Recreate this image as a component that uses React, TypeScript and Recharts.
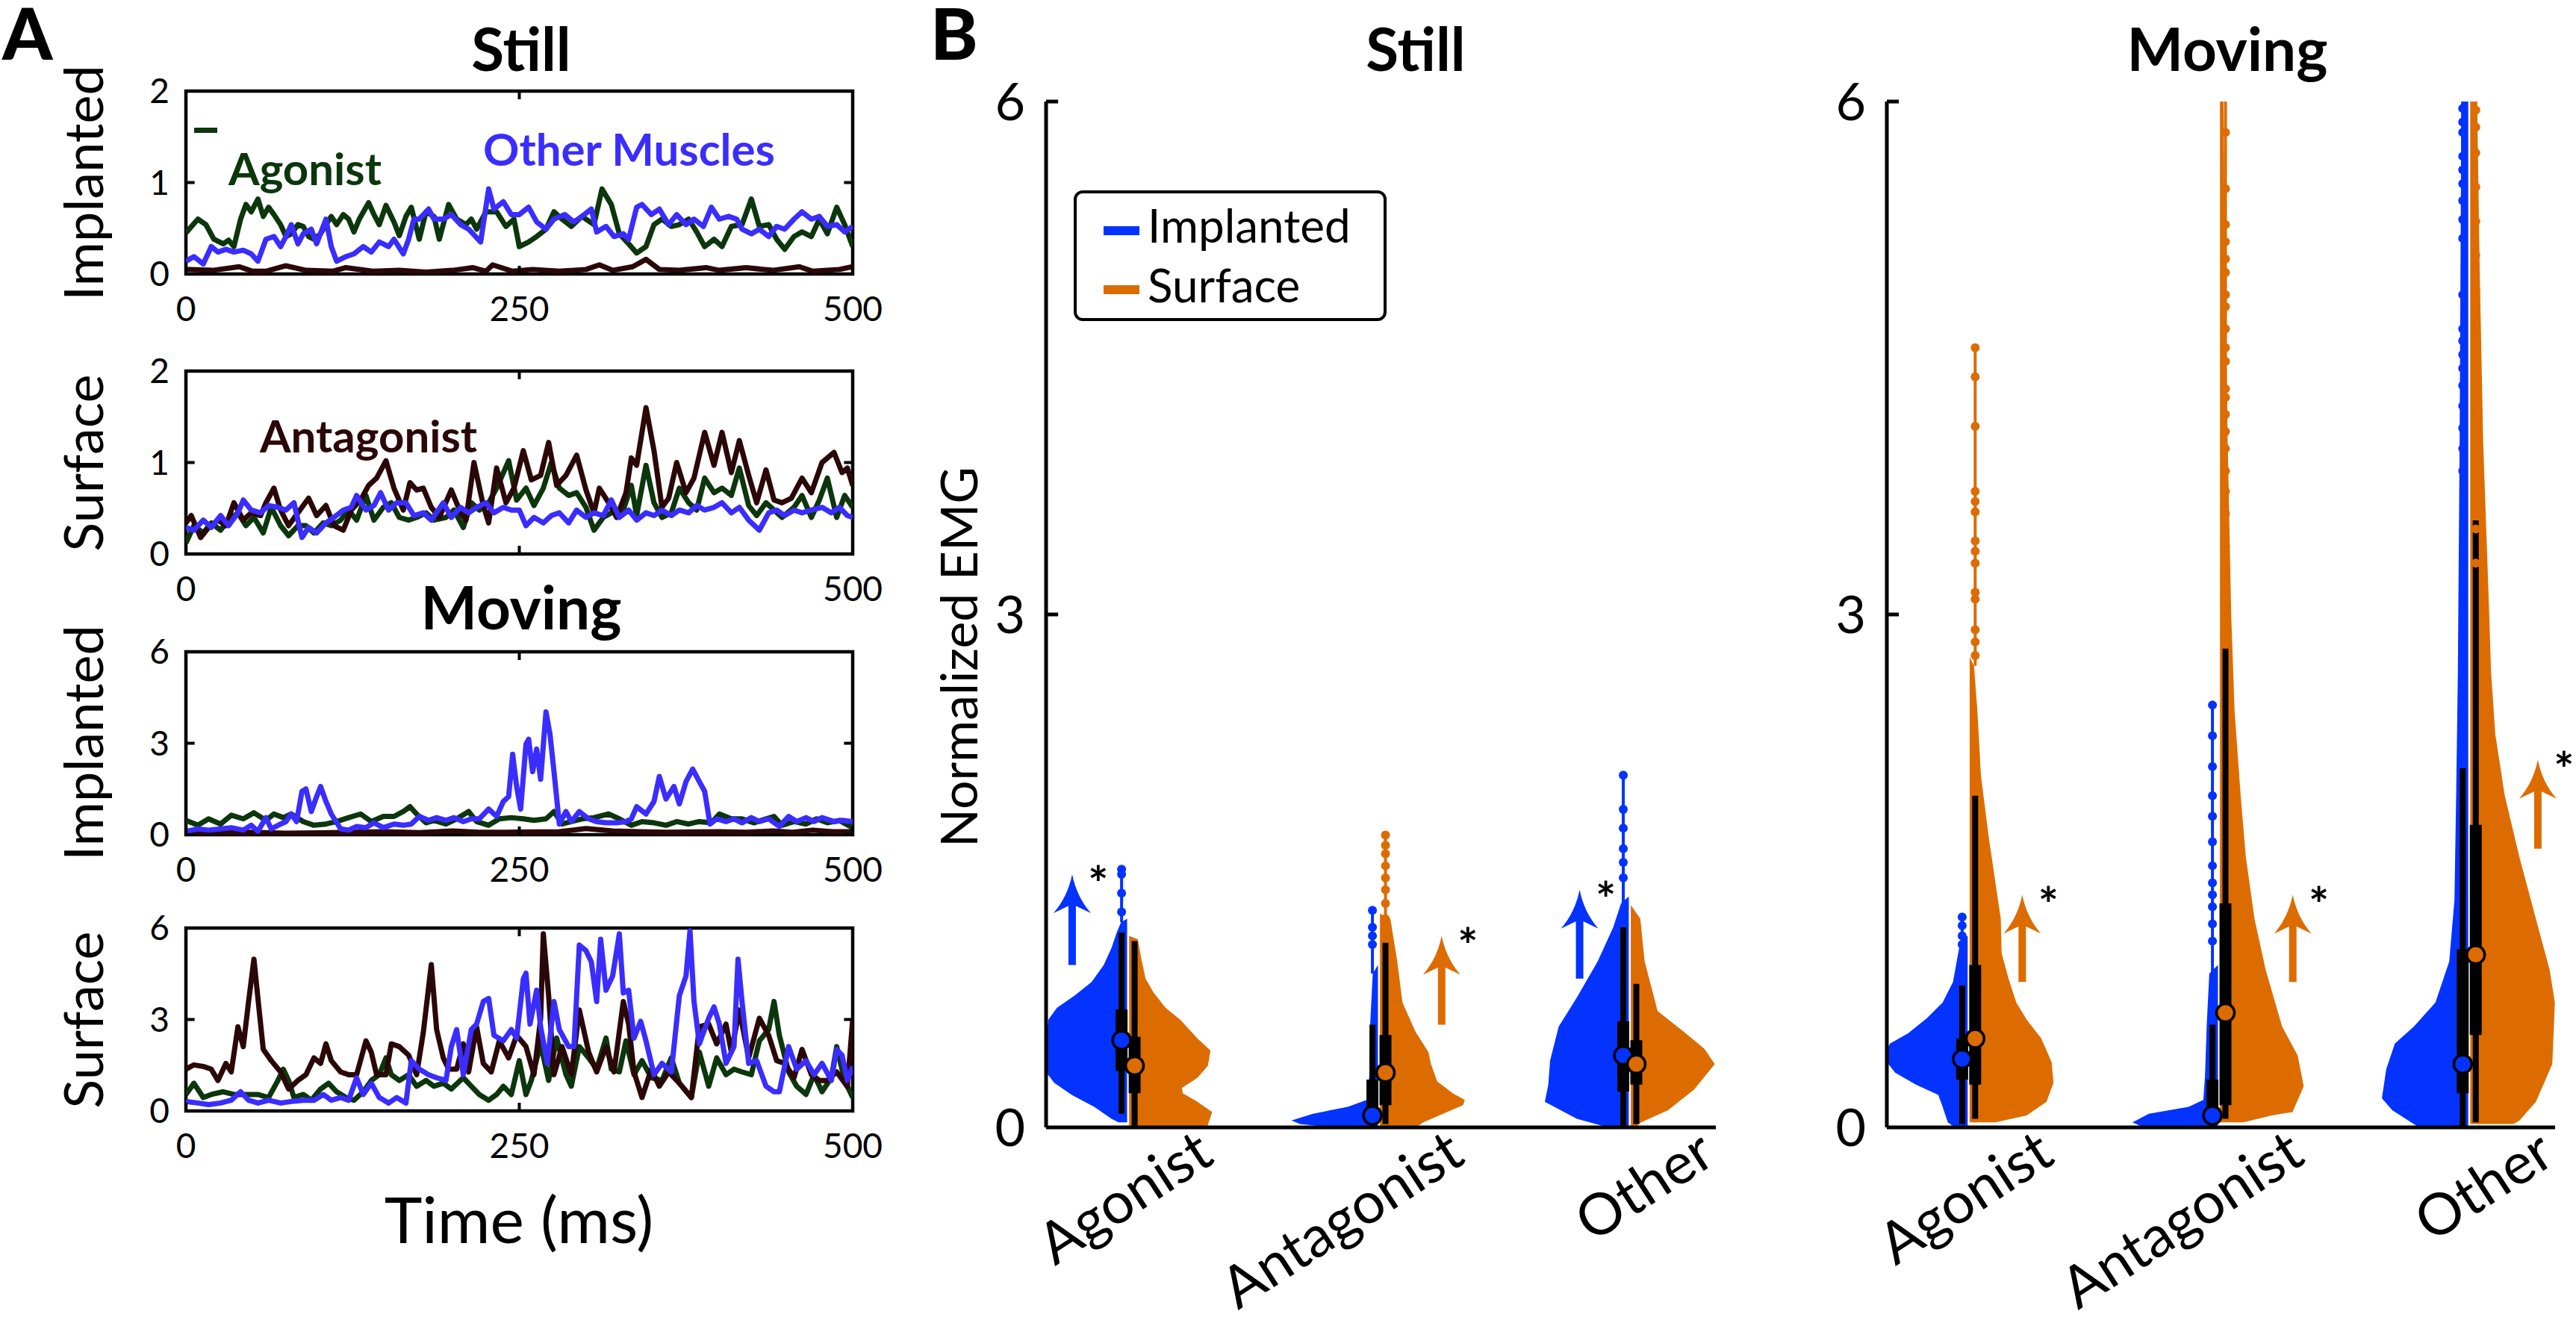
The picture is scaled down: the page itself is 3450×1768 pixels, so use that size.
import React from 'react';
import {
  LineChart, Line, XAxis, YAxis, ReferenceArea, ReferenceLine, ReferenceDot,
  ComposedChart, Area,
} from 'recharts';

type Pair = [number, number];

const FONT = "Lato, 'Open Sans', 'DejaVu Sans', sans-serif";
const GREEN = '#0c360c';
const BROWN = '#2b0707';
const TRACE_BLUE = '#3a2dff';
const BLUE = '#0433ff';
const ORANGE = '#dd6c00';

// ---------------- Panel A : example traces (time ms, normalized EMG) ----------------
const timeTicks = [0, 250, 500];
const timeLabelsNoMiddle = [0, 500];
const stillYTicks = [0, 1, 2];
const movingYTicks = [0, 3, 6];

const stillImplantedAgonist: Pair[] = [[0,0.45],[9,0.6],[15,0.54],[21,0.38],[28,0.33],[32,0.37],[36,0.3],[41,0.6],[45,0.76],[49,0.68],[54,0.82],[58,0.63],[62,0.73],[66,0.65],[71,0.54],[75,0.41],[79,0.44],[84,0.54],[88,0.52],[92,0.41],[96,0.38],[101,0.44],[105,0.54],[109,0.63],[113,0.54],[118,0.65],[122,0.6],[126,0.46],[130,0.6],[137,0.78],[141,0.65],[145,0.54],[150,0.75],[156,0.57],[160,0.42],[165,0.63],[169,0.73],[175,0.38],[180,0.68],[186,0.63],[190,0.38],[197,0.76],[203,0.6],[210,0.54],[214,0.6],[218,0.49],[225,0.68],[233,0.68],[240,0.52],[246,0.6],[250,0.3],[257,0.35],[263,0.41],[270,0.49],[276,0.68],[282,0.6],[289,0.52],[297,0.63],[306,0.54],[312,0.93],[319,0.76],[325,0.44],[332,0.33],[338,0.23],[345,0.3],[351,0.54],[357,0.6],[364,0.52],[370,0.54],[377,0.6],[383,0.46],[389,0.3],[396,0.38],[402,0.3],[409,0.52],[417,0.54],[424,0.82],[430,0.52],[437,0.54],[443,0.38],[449,0.27],[456,0.41],[462,0.46],[469,0.41],[475,0.6],[481,0.44],[488,0.73],[494,0.54],[500,0.3]];
const stillImplantedOther: Pair[] = [[0,0.14],[6,0.19],[13,0.11],[19,0.3],[24,0.24],[30,0.27],[36,0.24],[43,0.26],[49,0.22],[54,0.14],[60,0.38],[66,0.41],[71,0.3],[75,0.41],[79,0.54],[84,0.33],[88,0.44],[94,0.49],[98,0.33],[105,0.6],[109,0.3],[113,0.14],[120,0.19],[126,0.22],[133,0.3],[139,0.24],[145,0.35],[152,0.3],[156,0.38],[163,0.22],[167,0.38],[171,0.6],[175,0.6],[182,0.71],[186,0.6],[193,0.6],[199,0.65],[206,0.54],[212,0.49],[221,0.35],[227,0.93],[231,0.71],[238,0.79],[244,0.65],[250,0.65],[257,0.73],[263,0.57],[270,0.49],[276,0.6],[284,0.65],[291,0.57],[297,0.63],[304,0.71],[308,0.46],[315,0.52],[321,0.41],[328,0.44],[332,0.38],[338,0.73],[342,0.76],[349,0.65],[355,0.71],[362,0.54],[368,0.65],[375,0.54],[381,0.6],[388,0.52],[394,0.73],[400,0.6],[407,0.63],[413,0.6],[417,0.49],[424,0.44],[430,0.49],[437,0.41],[443,0.52],[449,0.49],[456,0.6],[462,0.68],[469,0.6],[475,0.63],[481,0.52],[488,0.54],[494,0.46],[500,0.52]];
const stillImplantedAntagonist: Pair[] = [[0,0.05],[20,0.04],[40,0.08],[50,0.03],[60,0.03],[75,0.09],[90,0.04],[110,0.03],[120,0.07],[140,0.03],[160,0.04],[180,0.02],[200,0.04],[215,0.07],[225,0.03],[230,0.1],[245,0.03],[260,0.05],[280,0.03],[300,0.05],[310,0.1],[320,0.04],[335,0.08],[345,0.16],[355,0.05],[370,0.04],[390,0.07],[400,0.04],[420,0.07],[440,0.04],[460,0.08],[470,0.03],[490,0.05],[500,0.08]];

const stillSurfaceAntagonist: Pair[] = [[0,0.34],[4,0.42],[11,0.18],[17,0.29],[24,0.37],[30,0.31],[36,0.56],[43,0.37],[49,0.45],[56,0.42],[60,0.56],[66,0.72],[71,0.48],[77,0.31],[84,0.45],[92,0.61],[98,0.42],[105,0.53],[111,0.31],[118,0.26],[124,0.48],[131,0.59],[137,0.75],[143,0.83],[150,1.02],[156,0.72],[163,0.48],[168,0.78],[173,0.7],[178,0.72],[184,0.51],[190,0.4],[199,0.7],[206,0.45],[210,0.37],[216,1.0],[223,0.53],[227,0.34],[233,0.94],[240,0.56],[246,0.72],[253,1.13],[259,0.81],[266,0.86],[272,1.22],[278,0.75],[285,0.86],[293,1.08],[300,0.7],[306,0.45],[310,0.72],[317,0.56],[323,0.4],[330,0.67],[334,1.05],[338,0.97],[345,1.6],[351,1.13],[357,0.51],[362,0.61],[368,1.0],[375,0.67],[381,0.83],[389,1.33],[396,0.97],[402,1.33],[409,0.89],[415,1.24],[422,0.86],[428,0.56],[435,0.92],[441,0.59],[447,0.56],[454,0.61],[462,0.83],[469,0.67],[477,1.0],[486,1.11],[492,0.89],[496,0.94],[500,0.75]];
const stillSurfaceAgonist: Pair[] = [[0,0.12],[6,0.31],[13,0.23],[19,0.34],[26,0.26],[32,0.37],[39,0.45],[45,0.31],[51,0.4],[58,0.23],[64,0.51],[71,0.31],[77,0.2],[84,0.31],[90,0.31],[96,0.23],[103,0.34],[109,0.31],[116,0.37],[122,0.48],[128,0.37],[135,0.64],[141,0.37],[148,0.51],[154,0.56],[160,0.4],[167,0.37],[173,0.4],[180,0.45],[186,0.37],[195,0.4],[201,0.48],[208,0.29],[214,0.56],[220,0.48],[227,0.56],[233,0.72],[242,1.02],[248,0.59],[255,0.72],[261,0.53],[268,0.72],[274,1.0],[280,0.72],[287,0.64],[293,0.67],[300,0.51],[306,0.26],[313,0.4],[319,0.45],[328,0.48],[334,0.75],[338,0.42],[345,0.97],[351,0.56],[357,0.4],[364,0.45],[370,0.72],[377,0.56],[383,0.48],[389,0.83],[396,0.67],[402,0.72],[409,0.64],[415,0.94],[422,0.53],[428,0.42],[435,0.56],[441,0.48],[447,0.4],[456,0.51],[462,0.64],[469,0.4],[475,0.59],[481,0.83],[488,0.4],[494,0.64],[500,0.51]];
const stillSurfaceOther: Pair[] = [[0,0.29],[6,0.26],[13,0.37],[19,0.29],[26,0.42],[32,0.31],[39,0.45],[43,0.59],[49,0.48],[56,0.45],[62,0.53],[69,0.51],[75,0.48],[81,0.56],[87,0.18],[92,0.29],[98,0.23],[105,0.34],[111,0.4],[118,0.48],[124,0.51],[128,0.64],[135,0.48],[141,0.53],[146,0.67],[152,0.48],[158,0.56],[165,0.56],[171,0.42],[178,0.45],[184,0.37],[193,0.56],[199,0.4],[206,0.51],[212,0.45],[218,0.51],[225,0.56],[231,0.45],[238,0.51],[244,0.48],[250,0.48],[255,0.31],[261,0.4],[268,0.34],[274,0.42],[280,0.45],[287,0.34],[293,0.48],[300,0.4],[306,0.45],[313,0.42],[319,0.59],[325,0.4],[332,0.48],[338,0.37],[345,0.45],[351,0.42],[357,0.48],[364,0.42],[370,0.48],[377,0.45],[383,0.53],[389,0.48],[396,0.51],[402,0.56],[409,0.45],[415,0.51],[422,0.37],[430,0.26],[437,0.45],[443,0.48],[449,0.42],[456,0.48],[462,0.45],[469,0.48],[477,0.51],[484,0.45],[490,0.51],[496,0.42],[500,0.4]];

const movingImplantedOther: Pair[] = [[0,0.11],[9,0.19],[17,0.15],[26,0.19],[34,0.23],[43,0.15],[49,0.31],[54,0.11],[60,0.56],[64,0.19],[71,0.35],[75,0.43],[79,0.68],[83,0.43],[87,1.42],[90,1.5],[94,0.76],[98,1.25],[101,1.58],[105,1.09],[109,0.68],[116,0.19],[122,0.15],[128,0.27],[135,0.23],[141,0.39],[148,0.23],[156,0.35],[163,0.31],[169,0.35],[175,0.6],[182,0.47],[188,0.56],[195,0.47],[201,0.56],[208,0.43],[214,0.52],[220,0.52],[227,0.84],[233,0.6],[238,1.09],[242,1.25],[245,2.64],[248,1.58],[251,0.84],[255,2.97],[257,3.13],[260,2.07],[263,2.81],[266,1.82],[270,4.03],[273,3.3],[276,2.07],[280,0.35],[285,0.76],[289,0.43],[295,0.76],[302,0.52],[308,0.43],[315,0.39],[323,0.39],[330,0.43],[334,0.52],[338,0.92],[345,0.68],[351,1.09],[355,1.91],[360,1.17],[366,1.58],[370,1.01],[375,1.74],[380,2.15],[385,1.74],[389,1.42],[393,0.35],[398,0.52],[405,0.43],[411,0.52],[417,0.39],[424,0.56],[430,0.43],[437,0.52],[445,0.27],[452,0.6],[458,0.43],[465,0.56],[471,0.43],[477,0.56],[486,0.43],[492,0.47],[500,0.43]];
const movingImplantedAgonist: Pair[] = [[0,0.47],[9,0.31],[17,0.52],[26,0.35],[34,0.64],[43,0.52],[51,0.72],[60,0.47],[66,0.68],[73,0.56],[79,0.68],[88,0.43],[96,0.31],[105,0.35],[113,0.43],[122,0.56],[131,0.68],[139,0.43],[148,0.6],[156,0.6],[163,0.76],[168,0.92],[173,0.68],[180,0.39],[186,0.47],[195,0.35],[203,0.52],[212,0.76],[218,0.43],[227,0.31],[235,0.52],[244,0.56],[253,0.52],[261,0.47],[270,0.52],[276,0.76],[282,0.35],[289,0.43],[297,0.52],[306,0.56],[317,0.68],[325,0.52],[334,0.31],[342,0.43],[351,0.39],[360,0.31],[368,0.43],[377,0.35],[385,0.43],[394,0.39],[400,0.68],[409,0.52],[417,0.52],[426,0.39],[435,0.52],[441,0.6],[447,0.31],[456,0.43],[465,0.35],[473,0.52],[481,0.39],[490,0.47],[500,0.23]];
const movingImplantedAntagonist: Pair[] = [[0,0.05],[25,0.06],[50,0.08],[75,0.05],[100,0.06],[125,0.08],[150,0.1],[175,0.07],[200,0.12],[220,0.08],[240,0.08],[260,0.09],[280,0.1],[300,0.2],[320,0.12],[340,0.1],[360,0.08],[380,0.09],[400,0.1],[420,0.08],[440,0.12],[455,0.08],[470,0.15],[485,0.1],[500,0.1]];

const movingSurfaceAntagonist: Pair[] = [[0,1.37],[6,1.51],[13,1.46],[19,1.37],[24,1.0],[30,1.56],[34,1.28],[39,2.76],[43,2.11],[47,3.59],[51,4.98],[54,3.69],[58,2.02],[64,1.65],[71,1.28],[77,0.72],[84,1.0],[90,1.19],[96,1.74],[101,1.56],[105,2.2],[109,1.65],[116,1.28],[122,1.19],[128,1.19],[135,2.3],[139,1.93],[143,1.19],[150,1.19],[154,2.2],[160,2.11],[167,1.83],[173,1.19],[178,2.57],[184,4.8],[188,2.67],[193,1.74],[197,1.37],[203,1.37],[208,2.2],[212,1.28],[218,2.76],[223,1.56],[229,1.28],[235,2.3],[242,1.74],[248,2.48],[255,2.11],[261,1.19],[266,3.04],[268,5.81],[272,3.78],[276,1.19],[282,2.11],[289,1.19],[295,3.31],[302,1.93],[308,1.28],[315,2.11],[321,1.28],[328,3.59],[332,2.85],[336,1.28],[342,0.44],[349,1.37],[355,0.81],[362,1.28],[370,0.91],[379,0.44],[385,2.76],[392,2.85],[398,2.2],[405,2.85],[409,1.93],[415,3.31],[422,1.74],[430,3.04],[437,2.48],[443,1.65],[449,1.56],[456,1.09],[462,2.02],[469,1.19],[475,1.0],[481,1.0],[488,1.28],[496,0.8],[500,3.0]];
const movingSurfaceAgonist: Pair[] = [[0,0.54],[6,0.91],[13,0.44],[19,0.54],[28,0.63],[36,0.54],[45,0.54],[54,0.54],[62,0.44],[69,1.0],[73,1.37],[77,1.0],[81,0.44],[88,0.54],[94,0.35],[101,0.72],[107,0.91],[113,0.63],[120,0.44],[126,0.35],[133,0.63],[139,1.0],[145,1.19],[150,1.74],[154,1.19],[160,1.0],[167,1.19],[173,0.81],[180,1.0],[186,0.81],[193,0.91],[199,0.72],[208,1.09],[214,0.81],[220,0.54],[227,0.35],[233,0.54],[238,0.81],[244,0.54],[250,1.65],[255,0.54],[259,1.0],[266,2.2],[272,1.0],[278,2.39],[285,1.19],[289,0.81],[295,2.11],[302,1.74],[308,1.37],[315,2.39],[319,1.37],[325,1.28],[330,2.3],[336,1.19],[342,1.65],[349,1.09],[357,1.0],[364,1.74],[370,0.91],[379,0.44],[385,1.93],[392,0.81],[398,1.74],[405,1.19],[411,1.37],[417,1.28],[424,1.19],[430,2.3],[437,2.67],[441,3.59],[445,2.48],[452,1.28],[458,0.81],[465,0.54],[471,1.19],[477,0.63],[484,1.09],[488,2.11],[494,1.0],[500,0.44]];
const movingSurfaceOther: Pair[] = [[0,0.31],[9,0.26],[17,0.21],[26,0.26],[34,0.35],[41,0.63],[47,0.35],[54,0.26],[62,0.35],[71,0.26],[79,0.31],[88,0.35],[96,0.35],[103,0.54],[109,0.35],[116,0.44],[122,0.35],[128,1.09],[133,0.54],[139,0.91],[145,0.44],[152,0.26],[158,0.44],[165,0.26],[169,1.65],[175,1.37],[182,1.19],[188,1.09],[195,1.0],[199,2.11],[203,2.67],[208,1.19],[214,2.67],[218,2.85],[223,3.59],[227,3.69],[231,2.48],[238,2.3],[244,2.67],[248,2.39],[253,4.33],[255,4.52],[258,2.85],[263,3.96],[266,2.76],[271,1.56],[276,3.59],[280,2.67],[287,2.11],[291,2.11],[295,5.44],[300,5.26],[304,4.89],[308,3.59],[311,5.63],[315,3.96],[320,4.43],[325,5.81],[328,3.87],[332,3.96],[336,2.39],[341,2.94],[345,2.3],[351,1.19],[357,1.56],[364,1.28],[370,3.78],[375,4.43],[378,5.91],[381,3.59],[385,2.2],[392,3.04],[396,3.41],[400,2.85],[405,1.56],[411,2.11],[414,4.98],[417,3.59],[422,1.56],[428,1.65],[435,0.81],[441,0.63],[445,0.63],[452,2.11],[458,1.37],[465,1.65],[471,1.19],[477,1.56],[484,1.0],[488,2.02],[492,1.83],[496,1.0],[500,1.46]];

// ---------------- Panel B : violin data ----------------
const categories = ['Agonist', 'Antagonist', 'Other'];
const categoryPositions = [1, 2, 3];
const emgTicks = [0, 3, 6];

// relative density (0..1) along EMG value, per category
const stillImplantedDensity: Pair[][] = [
  [[0.03,0.1],[0.05,0.18],[0.12,0.38],[0.19,0.64],[0.26,0.84],[0.35,0.98],[0.48,0.94],[0.63,0.91],[0.7,0.81],[0.77,0.61],[0.85,0.41],[0.95,0.27],[1.05,0.18],[1.14,0.12],[1.2,0.07],[1.22,0.0]],
  [[0.0,0.55],[0.02,0.9],[0.04,1.0],[0.08,0.75],[0.12,0.35],[0.16,0.13],[0.3,0.1],[0.6,0.09],[0.9,0.06],[0.95,0.0]],
  [[0.0,0.24],[0.05,0.6],[0.15,0.97],[0.25,0.93],[0.39,0.91],[0.59,0.81],[0.76,0.6],[0.97,0.36],[1.17,0.18],[1.31,0.09],[1.35,0.0]],
];
const stillSurfaceDensity: Pair[][] = [
  [[0.0,0.9],[0.09,0.96],[0.15,0.79],[0.2,0.62],[0.23,0.61],[0.29,0.79],[0.36,0.91],[0.45,0.94],[0.52,0.79],[0.63,0.59],[0.7,0.42],[0.79,0.28],[0.87,0.19],[0.99,0.14],[1.1,0.1],[1.12,0.0]],
  [[0.0,0.42],[0.03,0.5],[0.13,0.96],[0.16,0.98],[0.2,0.84],[0.27,0.66],[0.37,0.59],[0.44,0.56],[0.56,0.41],[0.73,0.26],[0.97,0.2],[1.22,0.12],[1.25,0.0]],
  [[0.0,0.05],[0.03,0.12],[0.1,0.43],[0.22,0.73],[0.37,0.97],[0.46,0.85],[0.56,0.61],[0.68,0.31],[0.97,0.16],[1.22,0.11],[1.3,0.0]],
];
const movingImplantedDensity: Pair[][] = [
  [[0.0,0.15],[0.03,0.23],[0.12,0.29],[0.19,0.34],[0.25,0.6],[0.32,0.84],[0.41,0.98],[0.49,0.9],[0.55,0.69],[0.64,0.47],[0.73,0.29],[0.85,0.17],[0.99,0.12],[1.1,0.08],[1.12,0.0]],
  [[0.0,0.86],[0.03,0.99],[0.08,0.8],[0.12,0.34],[0.16,0.17],[0.3,0.15],[0.6,0.13],[0.9,0.1],[0.95,0.0]],
  [[0.0,0.57],[0.1,0.88],[0.17,1.0],[0.34,0.95],[0.49,0.85],[0.59,0.63],[0.73,0.38],[0.97,0.22],[1.33,0.16],[1.94,0.14],[2.67,0.12],[4.0,0.1],[6.0,0.08]],
];
const movingSurfaceDensity: Pair[][] = [
  [[0.03,0.3],[0.07,0.66],[0.15,0.89],[0.26,0.97],[0.38,0.95],[0.52,0.83],[0.63,0.66],[0.73,0.54],[0.87,0.45],[1.02,0.37],[1.22,0.36],[1.7,0.22],[2.06,0.13],[2.43,0.09],[2.7,0.05],[2.75,0.0]],
  [[0.03,0.27],[0.07,0.6],[0.09,0.84],[0.24,0.97],[0.42,0.9],[0.59,0.72],[0.92,0.53],[1.22,0.4],[1.58,0.3],[1.94,0.24],[2.43,0.17],[3.0,0.13],[4.0,0.09],[5.0,0.06],[6.0,0.04]],
  [[0.02,0.5],[0.04,0.57],[0.15,0.76],[0.37,0.95],[0.73,0.98],[0.92,0.92],[1.22,0.76],[1.58,0.57],[1.94,0.4],[2.3,0.29],[2.67,0.24],[3.0,0.22],[4.0,0.15],[5.0,0.11],[6.0,0.08]],
];

// box stats: [whisker low, q1, median, q3, whisker high]
const stillImplantedBox = [[0.08,0.33,0.51,0.69,1.14],[0.0,0.02,0.07,0.28,0.6],[0.01,0.21,0.42,0.62,1.17]];
const stillSurfaceBox = [[0.01,0.2,0.36,0.53,1.09],[0.02,0.13,0.32,0.54,1.08],[0.02,0.25,0.37,0.51,0.84]];
const movingImplantedBox = [[0.02,0.28,0.4,0.52,0.83],[0.0,0.02,0.07,0.28,0.6],[0.0,0.2,0.37,1.04,2.1]];
const movingSurfaceBox = [[0.05,0.25,0.52,0.95,1.94],[0.05,0.13,0.67,1.31,2.8],[0.03,0.54,1.01,1.77,3.55]];

// thin upper tails [from, to]
const stillImplantedTails = [[1.2,1.51],[0.9,1.27],[1.3,2.06]];
const stillSurfaceTails = [null,[1.2,1.71],null];
const movingImplantedTails = [[1.1,1.23],[0.9,2.47],[2.5,6.0]];
const movingSurfaceTails = [[2.7,4.56],[2.4,6.0],[3.0,6.0]];

// outlying points on tails
const stillImplantedDots = [[1.26,1.37,1.48,1.51],[1.07,1.12,1.17,1.27],[1.46,1.55,1.63,1.75,1.86,2.06]];
const stillSurfaceDots = [[],[1.22,1.31,1.39,1.46,1.53,1.6,1.65,1.71],[]];
const movingImplantedDots = [[1.07,1.12,1.18,1.23],[1.09,1.19,1.29,1.36,1.43,1.53,1.67,1.82,1.94,2.11,2.29,2.47],[3.84,3.97,4.09,4.22,4.34,4.44,4.52,4.6,4.67,4.87,5.2,5.31,5.42,5.52,5.6,5.68,5.82,5.88,5.96]];
const movingSurfaceDots = [[2.76,2.84,2.91,3.09,3.13,3.3,3.37,3.43,3.6,3.66,3.72,4.1,4.39,4.56],[2.98,3.2,3.4,3.59,3.72,3.84,3.97,4.07,4.17,4.27,4.32,4.48,4.56,4.67,4.8,4.87,5.0,5.08,5.18,5.28,5.49,5.82],[3.3,3.5,3.7,3.9,4.1,4.3,4.5,4.7,4.9,5.1,5.3,5.5,5.7,5.85,5.95]];

// significance arrows: category, side offset, from, to, which group
const stillArrows = [
  { cat: 1, dx: -0.223, from: 0.95, to: 1.48, group: 'implanted' },
  { cat: 2, dx: 0.25, from: 0.6, to: 1.12, group: 'surface' },
  { cat: 3, dx: -0.2, from: 0.87, to: 1.39, group: 'implanted' },
];
const movingArrows = [
  { cat: 1, dx: 0.214, from: 0.85, to: 1.36, group: 'surface' },
  { cat: 2, dx: 0.295, from: 0.85, to: 1.36, group: 'surface' },
  { cat: 3, dx: 0.274, from: 1.63, to: 2.15, group: 'surface' },
];

const legendItems = [
  { name: 'Implanted', color: BLUE },
  { name: 'Surface', color: ORANGE },
];

// ---------------- helpers ----------------
const toRows = (pairs: Pair[]) => pairs.map(([t, v]) => ({ t, v }));

const HALF_W = 0.345;
const GAP = 0.004;
const BOX_OFF = 0.026;
const X_DOMAIN: [number, number] = [0.673, 3.343];

function halfRows(density: Pair[], cx: number, side: number) {
  return density.map(([v, d]) => ({
    v,
    r: side < 0 ? [cx - GAP - d * HALF_W, cx - GAP] : [cx + GAP, cx + GAP + d * HALF_W],
  }));
}

const tickStyleA = { fontSize: 46, fill: '#000', fontFamily: FONT };

function TracePanel({ top, yMax, yTicks, traces, xAxisHeight, xLabels }: any) {
  const plotH = 245;
  const mTop = 60;
  const tx = 500 * 0.013;
  const ty = yMax * 0.045;
  return (
    <div style={{ position: 'absolute', left: 0, top: top - mTop }}>
      <LineChart width={1200} height={mTop + plotH + xAxisHeight} margin={{ top: mTop, right: 58, bottom: 0, left: 0 }}>
        <XAxis type="number" dataKey="t" domain={[0, 500]} ticks={xLabels} interval={0} height={xAxisHeight}
          tickLine={false} axisLine={false} tickSize={0} tickMargin={30} tick={tickStyleA} allowDataOverflow />
        <YAxis type="number" domain={[0, yMax]} ticks={yTicks} interval={0} width={249}
          tickLine={false} axisLine={false} tickSize={0} tickMargin={22} tick={tickStyleA} allowDataOverflow />
        {traces.map((s: any, i: number) => (
          <Line key={i} data={toRows(s.data)} dataKey="v" type="linear" stroke={s.color} strokeWidth={7}
            dot={false} activeDot={false} isAnimationActive={false} strokeLinejoin="round" />
        ))}
        <ReferenceArea x1={0} x2={500} y1={0} y2={yMax} fill="none" fillOpacity={0} stroke="#000" strokeWidth={4.5} ifOverflow="visible" />
        {timeTicks.map((t) => (
          <ReferenceLine key={'b' + t} segment={[{ x: t, y: 0 }, { x: t, y: ty }]} stroke="#000" strokeWidth={4} ifOverflow="visible" />
        ))}
        {timeTicks.map((t) => (
          <ReferenceLine key={'t' + t} segment={[{ x: t, y: yMax }, { x: t, y: yMax - ty }]} stroke="#000" strokeWidth={4} ifOverflow="visible" />
        ))}
        {yTicks.map((v: number) => (
          <ReferenceLine key={'l' + v} segment={[{ x: 0, y: v }, { x: tx, y: v }]} stroke="#000" strokeWidth={4} ifOverflow="visible" />
        ))}
        {yTicks.map((v: number) => (
          <ReferenceLine key={'r' + v} segment={[{ x: 500, y: v }, { x: 500 - tx, y: v }]} stroke="#000" strokeWidth={4} ifOverflow="visible" />
        ))}
      </LineChart>
    </div>
  );
}

function CategoryTick(props: any) {
  const { x, y, payload } = props;
  const idx = categoryPositions.indexOf(payload.value);
  const label = categories[idx] ?? '';
  const ax = x + 118;
  const ay = y + 46;
  return (
    <text x={ax} y={ay} transform={`rotate(-33 ${ax} ${ay})`} textAnchor="end" fontSize={77} fontFamily={FONT} fill="#000">
      {label}
    </text>
  );
}

const arrowHead = (color: string) => (p: any) => {
  const { cx, cy } = p;
  const d = `M${cx},${cy} Q${cx + 6},${cy + 30} ${cx + 25},${cy + 52} L${cx},${cy + 40} L${cx - 25},${cy + 52} Q${cx - 6},${cy + 30} ${cx},${cy} Z`;
  return <path d={d} fill={color} />;
};
const asterisk = (p: any) => (
  <text x={p.cx + 35} y={p.cy + 36} textAnchor="middle" fontSize={64} fontWeight={700} fontFamily={FONT} fill="#000">*</text>
);

function ViolinPanel({ left, width, rightMargin, implDensity, surfDensity, implBox, surfBox, implTails, surfTails, implDots, surfDots, arrows }: any) {
  const groups = [
    { side: -1, color: BLUE, density: implDensity, box: implBox, tails: implTails, dots: implDots },
    { side: 1, color: ORANGE, density: surfDensity, box: surfBox, tails: surfTails, dots: surfDots },
  ];
  const tickLen = 0.048;
  return (
    <div style={{ position: 'absolute', left, top: 0 }}>
      <ComposedChart layout="vertical" width={width} height={1768} margin={{ top: 136, right: rightMargin, bottom: 0, left: 0 }}>
        <XAxis type="number" dataKey="x" domain={X_DOMAIN} ticks={categoryPositions} interval={0} height={258}
          tickLine={false} tickSize={0} tickMargin={0} axisLine={{ stroke: '#000', strokeWidth: 5 }} tick={CategoryTick} allowDataOverflow />
        <YAxis type="number" dataKey="v" domain={[0, 6]} ticks={emgTicks} interval={0} width={301} reversed
          tickLine={false} tickSize={0} tickMargin={28} axisLine={{ stroke: '#000', strokeWidth: 5 }}
          tick={{ fontSize: 70, fill: '#000', fontFamily: FONT }} allowDataOverflow />
        {groups.map((g) => categoryPositions.map((cx, i) => (
          <Area key={`a${g.side}${i}`} data={halfRows(g.density[i], cx, g.side)} dataKey="r" type="linear"
            stroke="none" fill={g.color} fillOpacity={1} dot={false} activeDot={false} isAnimationActive={false} />
        )))}
        {groups.map((g) => categoryPositions.map((cx, i) => {
          const t = g.tails[i];
          if (!t) return null;
          const bx = cx + g.side * BOX_OFF;
          return <ReferenceLine key={`t${g.side}${i}`} segment={[{ x: bx, y: t[0] }, { x: bx, y: t[1] }]} stroke={g.color} strokeWidth={4} ifOverflow="visible" />;
        }))}
        {groups.map((g) => categoryPositions.map((cx, i) => g.dots[i].map((v: number, k: number) => (
          <ReferenceDot key={`d${g.side}${i}${k}`} x={cx + g.side * BOX_OFF} y={v} r={6} fill={g.color} stroke="none" ifOverflow="visible" />
        ))))}
        {groups.map((g) => categoryPositions.map((cx, i) => {
          const b = g.box[i];
          const bx = cx + g.side * BOX_OFF;
          return [
            <ReferenceLine key={`w${g.side}${i}`} segment={[{ x: bx, y: b[0] }, { x: bx, y: b[4] }]} stroke="#000" strokeWidth={8} ifOverflow="visible" />,
            <ReferenceLine key={`q${g.side}${i}`} segment={[{ x: bx, y: b[1] }, { x: bx, y: b[3] }]} stroke="#000" strokeWidth={16} ifOverflow="visible" />,
          ];
        }))}
        {groups.map((g) => categoryPositions.map((cx, i) => (
          <ReferenceDot key={`m${g.side}${i}`} x={cx + g.side * BOX_OFF} y={g.box[i][2]} r={12} fill={g.color} stroke="#000" strokeWidth={3.5} ifOverflow="visible" />
        )))}
        {arrows.map((a: any, k: number) => {
          const color = a.group === 'implanted' ? BLUE : ORANGE;
          const ax = a.cat + a.dx;
          return [
            <ReferenceLine key={`as${k}`} segment={[{ x: ax, y: a.from }, { x: ax, y: a.to - 0.12 }]} stroke={color} strokeWidth={10} ifOverflow="visible" />,
            <ReferenceDot key={`ah${k}`} x={ax} y={a.to} r={1} shape={arrowHead(color)} ifOverflow="visible" />,
            <ReferenceDot key={`ak${k}`} x={ax} y={a.to} r={1} shape={asterisk} ifOverflow="visible" />,
          ];
        })}
        {emgTicks.filter((v) => v > 0).map((v) => (
          <ReferenceLine key={`yt${v}`} segment={[{ x: X_DOMAIN[0], y: v }, { x: X_DOMAIN[0] + tickLen, y: v }]} stroke="#000" strokeWidth={5} ifOverflow="visible" />
        ))}
      </ComposedChart>
    </div>
  );
}

export default function App() {
  const titleStyle = { fontSize: 80, fontWeight: 700 } as any;
  return (
    <div style={{ position: 'absolute', left: 0, top: 0, width: 3450, height: 1768, background: '#fff', overflow: 'hidden', fontFamily: FONT }}>
      <TracePanel top={122} yMax={2} yTicks={stillYTicks} xAxisHeight={80} xLabels={timeTicks}
        traces={[{ data: stillImplantedAntagonist, color: BROWN }, { data: stillImplantedAgonist, color: GREEN }, { data: stillImplantedOther, color: TRACE_BLUE }]} />
      <TracePanel top={497} yMax={2} yTicks={stillYTicks} xAxisHeight={80} xLabels={timeLabelsNoMiddle}
        traces={[{ data: stillSurfaceAgonist, color: GREEN }, { data: stillSurfaceAntagonist, color: BROWN }, { data: stillSurfaceOther, color: TRACE_BLUE }]} />
      <TracePanel top={873} yMax={6} yTicks={movingYTicks} xAxisHeight={80} xLabels={timeTicks}
        traces={[{ data: movingImplantedAgonist, color: GREEN }, { data: movingImplantedAntagonist, color: BROWN }, { data: movingImplantedOther, color: TRACE_BLUE }]} />
      <TracePanel top={1243} yMax={6} yTicks={movingYTicks} xAxisHeight={80} xLabels={timeTicks}
        traces={[{ data: movingSurfaceAgonist, color: GREEN }, { data: movingSurfaceAntagonist, color: BROWN }, { data: movingSurfaceOther, color: TRACE_BLUE }]} />

      <ViolinPanel left={1100} width={1250} rightMargin={52}
        implDensity={stillImplantedDensity} surfDensity={stillSurfaceDensity}
        implBox={stillImplantedBox} surfBox={stillSurfaceBox}
        implTails={stillImplantedTails} surfTails={stillSurfaceTails}
        implDots={stillImplantedDots} surfDots={stillSurfaceDots} arrows={stillArrows} />
      <ViolinPanel left={2226} width={1224} rightMargin={28}
        implDensity={movingImplantedDensity} surfDensity={movingSurfaceDensity}
        implBox={movingImplantedBox} surfBox={movingSurfaceBox}
        implTails={movingImplantedTails} surfTails={movingSurfaceTails}
        implDots={movingImplantedDots} surfDots={movingSurfaceDots} arrows={movingArrows} />

      <svg width={3450} height={1768} style={{ position: 'absolute', left: 0, top: 0, pointerEvents: 'none' }} fontFamily={FONT}>
        <text x={3} y={80} fontSize={96} fontWeight={900}>A</text>
        <text x={1246} y={80} fontSize={96} fontWeight={900}>B</text>
        <text x={698} y={95} textAnchor="middle" {...titleStyle}>Still</text>
        <text x={698} y={843} textAnchor="middle" {...titleStyle}>Moving</text>
        <text x={1896} y={95} textAnchor="middle" {...titleStyle}>Still</text>
        <text x={2983} y={95} textAnchor="middle" {...titleStyle}>Moving</text>

        {[['Implanted', 245], ['Surface', 620], ['Implanted', 995], ['Surface', 1366]].map(([t, y]: any, i) => (
          <text key={i} x={138} y={y} transform={`rotate(-90 138 ${y})`} textAnchor="middle" fontSize={72}>{t}</text>
        ))}
        <text x={695} y={1665} textAnchor="middle" fontSize={86}>Time (ms)</text>

        <rect x={260} y={171} width={31} height={7} fill={GREEN} />
        <text x={306} y={248} fontSize={60} fontWeight={700} fill={GREEN}>Agonist</text>
        <text x={647} y={222} fontSize={60} fontWeight={700} fill={TRACE_BLUE}>Other Muscles</text>
        <text x={348} y={606} fontSize={60} fontWeight={700} fill={BROWN}>Antagonist</text>

        <text x={1309} y={880} transform="rotate(-90 1309 880)" textAnchor="middle" fontSize={68}>Normalized EMG</text>

        <rect x={1440} y={257} width={415} height={171} rx={10} fill="#fff" stroke="#000" strokeWidth={4} />
        {legendItems.map((it, i) => (
          <g key={it.name}>
            <line x1={1478} x2={1526} y1={309 + i * 79} y2={309 + i * 79} stroke={it.color} strokeWidth={12} />
            <text x={1537} y={325 + i * 80} fontSize={62}>{it.name}</text>
          </g>
        ))}
      </svg>
    </div>
  );
}
